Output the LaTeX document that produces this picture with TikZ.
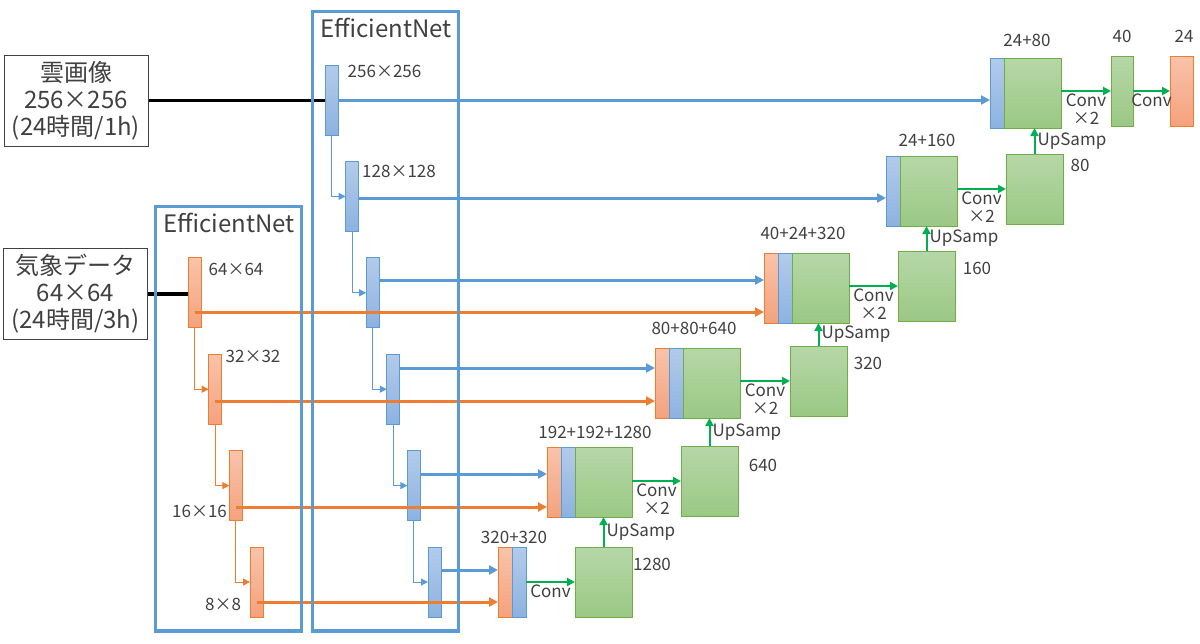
\documentclass[tikz,border=0pt]{standalone}
\usepackage{fontspec}
\setmainfont{Noto Sans CJK JP}
\usetikzlibrary{arrows.meta}

\definecolor{netblue}{HTML}{5B9BD5}
\definecolor{nettop}{HTML}{B3CBEA}
\definecolor{netbot}{HTML}{8DB2E0}
\definecolor{metorange}{HTML}{ED7D31}
\definecolor{mettop}{HTML}{F8C3AB}
\definecolor{metbot}{HTML}{F4A27D}
\definecolor{decgreen}{HTML}{70AD47}
\definecolor{dectop}{HTML}{B6D7A8}
\definecolor{decbot}{HTML}{9BC884}
\definecolor{arrgreen}{HTML}{00B050}
\definecolor{txtgray}{HTML}{404040}

\tikzset{
    blk/.style={inner sep=0pt, outer sep=0pt, anchor=north west,
        minimum height=35pt, line width=0.5pt},
    encblue/.style={blk, minimum width=6.5pt, draw=netblue,
        top color=nettop, bottom color=netbot},
    encorange/.style={blk, minimum width=6.5pt, draw=metorange,
        top color=mettop, bottom color=metbot},
    catblue/.style={encblue, minimum width=7pt},
    catorange/.style={encorange, minimum width=7pt},
    decbox/.style={blk, minimum width=28.5pt, draw=decgreen,
        top color=dectop, bottom color=decbot},
    lbl/.style={font=\fontsize{8.5}{9}\selectfont, text=txtgray, inner sep=1pt},
    bigtxt/.style={font=\fontsize{12}{13.5}\selectfont, text=txtgray},
    inbox/.style={bigtxt, draw=black!75, line width=0.5pt, align=center,
        minimum width=72pt, minimum height=45.5pt, inner sep=0pt},
    feed/.style={line width=1.6pt, black},
    thinarr/.style={line width=0.5pt, -{Triangle[length=3.5pt,width=3.5pt]}},
    skipline/.style={line width=1.5pt, -{Triangle[length=4.5pt,width=4.5pt]}},
    decarr/.style={arrgreen, line width=1pt, -{Triangle[length=4pt,width=4pt]}},
    effbox/.style={netblue, line width=1.7pt},
}

\begin{document}
\begin{tikzpicture}[x=0.5pt, y=-0.5pt]
    \useasboundingbox (0,0) rectangle (1200,643);

    \def\dx{20.6}
    \def\dy{96.4}

    % Inputs
    \node[inbox] (in1) at (76,100.5) {雲画像\\256×256\\(24時間/1h)};
    \node[inbox] (in2) at (75.5,294) {気象データ\\64×64\\(24時間/3h)};

    % Encoder for the cloud images
    \foreach \i in {1,...,6} {
        \node[encblue] (b\i) at ({325 + (\i-1)*\dx}, {65 + (\i-1)*\dy}) {};
    }
    \foreach \i in {1,...,5} {
        \pgfmathtruncatemacro{\j}{\i + 1}
        \draw[thinarr, netblue] (b\i.south) |- (b\j.west);
    }

    % Encoder for the weather data
    \foreach \i in {1,...,4} {
        \node[encorange] (o\i) at ({188 + (\i-1)*20.7}, {65 + (\i+1)*\dy}) {};
    }
    \foreach \i in {1,...,3} {
        \pgfmathtruncatemacro{\j}{\i + 1}
        \draw[thinarr, metorange] (o\i.south) |- (o\j.west);
    }

    % Encoder sizes
    \node[lbl] (s1) at (384.5,71) {256×256};
    \node[lbl] (s2) at (399,171) {128×128};
    \node[lbl] (s3) at (236,269) {64×64};
    \node[lbl] (s4) at (253,356) {32×32};
    \node[lbl] (s5) at (199.5,511) {16×16};
    \node[lbl] (s6) at (223,604) {8×8};

    % Decoder, levels 1 and 2
    \node[catblue] (cb1) at (990,58) {};
    \node[decbox] (cg1) at (cb1.north east) {};
    \node[catblue] (cb2) at (886,156) {};
    \node[decbox] (cg2) at (cb2.north east) {};

    % Decoder, levels 3 to 5
    \foreach \i/\x/\y in {3/764/253, 4/655/348, 5/547/447} {
        \node[catorange] (co\i) at (\x,\y) {};
        \node[catblue] (cb\i) at (co\i.north east) {};
        \node[decbox] (cg\i) at (cb\i.north east) {};
    }

    % Decoder, level 6
    \node[catorange] (co6) at (498,547) {};
    \node[catblue] (cb6) at (co6.north east) {};

    % Upsampled blocks
    \foreach \i/\x/\y in {2/1006/154, 3/898/251, 4/790/346, 5/681/446, 6/575/547} {
        \node[decbox] (u\i) at (\x,\y) {};
    }

    % Output
    \node[decbox, minimum width=11pt] (c40) at (1111,56) {};
    \node[encorange, minimum width=11.5pt] (out) at (1170,56) {};

    % Channel labels
    \node[lbl] (n1) at (1027,40) {24+80};
    \node[lbl] (n2) at (927,140) {24+160};
    \node[lbl] (n3) at (803,233) {40+24+320};
    \node[lbl] (n4) at (694,328) {80+80+640};
    \node[lbl] (n5) at (595,432) {192+192+1280};
    \node[lbl] (n6) at (514,537) {320+320};
    \node[lbl] (m6) at (652,564) {1280};
    \node[lbl] (m5) at (763,465) {640};
    \node[lbl] (m4) at (868,363) {320};
    \node[lbl] (m3) at (977,268) {160};
    \node[lbl] (m2) at (1080,165) {80};
    \node[lbl] (m1) at (1122,36) {40};
    \node[lbl] (m0) at (1184,36) {24};

    % Skip connections
    \draw[feed] (in1.east) -- (in1.east -| b1.west);
    \draw[feed] (in2.east) -- (in2.east -| o1.west);
    \foreach \i/\yb/\dst in {1/100/cb1, 2/198/cb2, 3/280/co3, 4/368/co4, 5/474/co5, 6/570/co6} {
        \coordinate (bs\i) at (b\i.east |- 0,\yb);
        \draw[skipline, netblue] (bs\i) -- (bs\i -| \dst.west);
    }
    \foreach \i/\yo/\dst in {1/312/co3, 2/401/co4, 3/507/co5, 4/602/co6} {
        \coordinate (os\i) at (o\i.center |- 0,\yo);
        \draw[skipline, metorange] (os\i) -- (os\i -| \dst.west);
    }

    % Conv x2
    \foreach \i/\dst in {1/c40, 2/u2, 3/u3, 4/u4, 5/u5} {
        \draw[decarr] (\dst.west -| cg\i.east) -- (\dst.west)
            node[midway, below, lbl, align=center] {Conv\\×2};
    }

    % UpSamp
    \foreach \i in {2,...,6} {
        \pgfmathtruncatemacro{\j}{\i - 1}
        \draw[decarr] (u\i.north) -- (u\i.north |- cg\j.south)
            node[midway, right, lbl] {UpSamp};
    }

    % Conv
    \draw[decarr] (u6.west -| cb6.east) -- (u6.west)
        node[midway, below, lbl] {Conv};
    \draw[decarr] (out.west -| c40.east) -- (out.west)
        node[midway, below, lbl] {Conv};

    % EfficientNet boxes
    \draw[effbox] (312.5,11.5) rectangle (458.5,631);
    \node[bigtxt] (eff1) at (386,28) {EfficientNet};
    \draw[effbox] (155.5,206.5) rectangle (301.5,631);
    \node[bigtxt] (eff2) at (229,223) {EfficientNet};
\end{tikzpicture}
\end{document}
